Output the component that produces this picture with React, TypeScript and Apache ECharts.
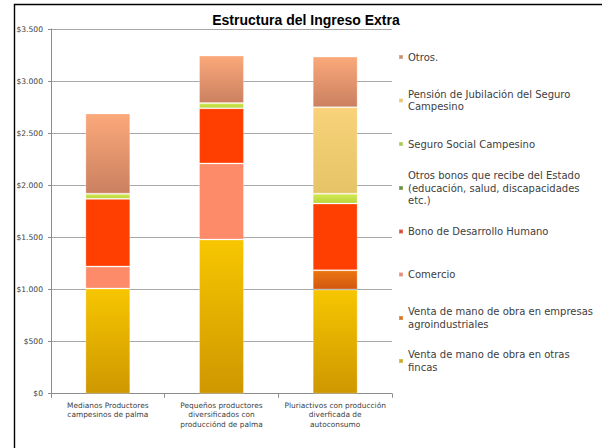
import React, { useEffect, useRef } from "react";
import * as echarts from "echarts";

const categories = [
  "Medianos Productores\ncampesinos de palma",
  "Pequeños productores\ndiversificados con\nproducciónd de palma",
  "Pluriactivos con producción\ndiverficada de\nautoconsumo",
];

const ventaFincas = [1010, 1480, 1000];
const ventaEmpresas = [0, 0, 185];
const comercio = [210, 730, 0];
const bonoDH = [650, 530, 640];
const otrosBonos = [0, 0, 0];
const seguroSocial = [50, 50, 95];
const pension = [0, 0, 830];
const otros = [770, 455, 485];

const yTicks = [0, 500, 1000, 1500, 2000, 2500, 3000, 3500];

const seriesNames = [
  "Venta de mano de obra en otras fincas",
  "Venta de mano de obra en empresas agroindustriales",
  "Comercio",
  "Bono de Desarrollo Humano",
  "Otros bonos que recibe del Estado (educación, salud, discapacidades etc.)",
  "Seguro Social Campesino",
  "Pensión de Jubilación del Seguro Campesino",
  "Otros.",
];

const legendLabels = [
  "Venta de mano de obra en otras\nfincas",
  "Venta de mano de obra en empresas\nagroindustriales",
  "Comercio",
  "Bono de Desarrollo Humano",
  "Otros bonos que recibe del Estado\n(educación, salud, discapacidades\netc.)",
  "Seguro Social Campesino",
  "Pensión de Jubilación del Seguro\nCampesino",
  "Otros.",
];

const seriesValues = [ventaFincas, ventaEmpresas, comercio, bonoDH, otrosBonos, seguroSocial, pension, otros];

const vgrad = (top: string, bottom: string) =>
  new echarts.graphic.LinearGradient(0, 0, 0, 1, [
    { offset: 0, color: top },
    { offset: 1, color: bottom },
  ]);

export default function App() {
  const ref = useRef<HTMLDivElement>(null);
  useEffect(() => {
    if (!ref.current) return;
    const chart = echarts.init(ref.current, undefined, { renderer: "svg" });

    const barColors = [
      vgrad("#F7C600", "#CF9700"),
      vgrad("#EC7412", "#D2580E"),
      "#FD8B6A",
      "#FF3F02",
      "#4E7A22",
      vgrad("#D2EA55", "#B9D43A"),
      vgrad("#F9D27A", "#E5C466"),
      vgrad("#FBA97A", "#CB8060"),
    ];
    const legendColors = ["#C9A822", "#D4701E", "#E58572", "#D5412C", "#6B8A42", "#A9C952", "#E7C271", "#C98E6D"];
    // first-line centre y of each legend entry (index matches seriesNames)
    const legendCenters = [361, 318, 274.5, 231.5, 188, 144, 100.5, 57];
    const lineH = 12.3;

    const legends = seriesNames.map((name, i) => {
      const n = legendLabels[i].split("\n").length;
      return {
        orient: "vertical",
        left: 398,
        top: legendCenters[i] - (2 * n - 1) * (lineH / 2),
        padding: 0,
        itemWidth: 4,
        itemHeight: 4,
        icon: "rect",
        selectedMode: false,
        data: [{ name, itemStyle: { color: legendColors[i] } }],
        formatter: () => legendLabels[i],
        textStyle: {
          fontFamily: "DejaVu Sans",
          fontSize: 10,
          color: "#404040",
          lineHeight: lineH,
          padding: [(n - 1) * lineH, 0, 0, 0],
        },
      };
    });

    chart.setOption({
      animation: false,
      backgroundColor: "#ffffff",
      title: {
        text: "Estructura del Ingreso Extra",
        left: 301,
        textAlign: "center",
        top: 8,
        textStyle: {
          fontFamily: "Liberation Sans",
          fontWeight: "bold",
          fontSize: 14,
          color: "#000000",
        },
      },
      graphic: [
        {
          type: "rect",
          shape: { x: 14.5, y: 4.5, width: 700, height: 600 },
          style: { fill: "none", stroke: "#000000", lineWidth: 1.4 },
          silent: true,
        },
      ],
      legend: legends,
      grid: { left: 51, right: 210, top: 29, bottom: 54.3, containLabel: false },
      xAxis: {
        type: "category",
        data: categories,
        axisLine: { lineStyle: { color: "#8C8C8C", width: 1 } },
        axisTick: { show: true, alignWithLabel: false, length: 4, lineStyle: { color: "#8C8C8C" } },
        axisLabel: {
          interval: 0,
          fontFamily: "DejaVu Sans",
          fontSize: 7.4,
          color: "#404040",
          lineHeight: 9.5,
          margin: 7,
        },
      },
      yAxis: {
        type: "value",
        min: yTicks[0],
        max: yTicks[yTicks.length - 1],
        interval: 500,
        axisLine: { show: true, lineStyle: { color: "#8C8C8C", width: 1 } },
        axisTick: { show: true, length: 3, lineStyle: { color: "#8C8C8C" } },
        splitLine: { show: true, lineStyle: { color: "#A8A8A8", width: 1 } },
        axisLabel: {
          fontFamily: "DejaVu Sans",
          fontSize: 7.6,
          color: "#404040",
          margin: 8,
          formatter: (v: number) => "$" + String(v).replace(/\B(?=(\d{3})+(?!\d))/g, "."),
        },
      },
      series: seriesNames.map((name, i) => ({
        name,
        type: "bar",
        stack: "total",
        barWidth: "39.5%",
        data: seriesValues[i],
        itemStyle: {
          color: barColors[i],
          borderColor: "rgba(255,255,255,0.25)",
          borderWidth: 1,
        },
        emphasis: { disabled: true },
      })),
    });
    return () => chart.dispose();
  }, []);

  return (
    <div
      ref={ref}
      style={{ position: "fixed", left: 0, top: 0, width: 602, height: 448 }}
    />
  );
}
